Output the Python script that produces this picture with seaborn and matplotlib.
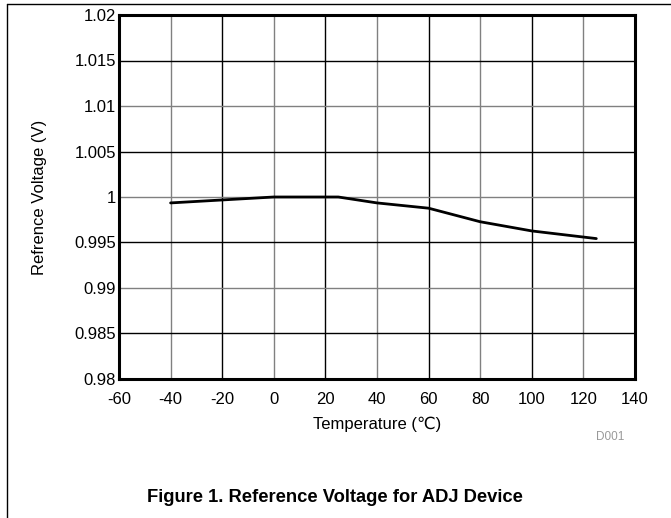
import pandas as pd
import seaborn as sns
from matplotlib import pyplot as plt
from matplotlib.lines import Line2D

temperature = [-40, 0, 25, 40, 60, 80, 100, 125]
ref_voltage = [0.99935, 1.0, 1.0, 0.99935, 0.99877, 0.99728, 0.99627, 0.99543]

x_ticks = [-60, -40, -20, 0, 20, 40, 60, 80, 100, 120, 140]
y_ticks = [0.98, 0.985, 0.99, 0.995, 1.0, 1.005, 1.01, 1.015, 1.02]
y_labels = ['0.98', '0.985', '0.99', '0.995', '1', '1.005', '1.01', '1.015', '1.02']

df = pd.DataFrame({'temp': temperature, 'vref': ref_voltage})

sns.set_style("white")
plt.rcParams['font.family'] = ['Liberation Sans', 'DejaVu Sans']
plt.rcParams['text.color'] = 'black'
plt.rcParams['axes.labelcolor'] = 'black'

fig = plt.figure(figsize=(6.71, 5.18), dpi=100)
ax = fig.add_axes([119 / 671, 1 - 379 / 518, 516 / 671, 364 / 518])

# alternating grid colours like the original
for i, xv in enumerate(x_ticks[1:-1]):
    ax.axvline(xv, color='#808080' if i % 2 == 0 else 'black', lw=1.0, zorder=1)
for i, yv in enumerate(y_ticks[1:-1]):
    ax.axhline(yv, color='black' if i % 2 == 0 else '#808080', lw=1.0, zorder=1)

sns.lineplot(data=df, x='temp', y='vref', color='black', linewidth=2.0, ax=ax, zorder=3)

ax.set_xlim(-60, 140)
ax.set_ylim(0.98, 1.02)
ax.set_xticks(x_ticks)
ax.set_xticklabels([str(v) for v in x_ticks])
ax.set_yticks(y_ticks)
ax.set_yticklabels(y_labels)
ax.tick_params(length=0, labelsize=12, colors='black')
ax.tick_params(axis='x', pad=9)
ax.tick_params(axis='y', pad=2)
for s in ax.spines.values():
    s.set_linewidth(2.2)
    s.set_color('black')
    s.set_zorder(4)

ax.set_xlabel('Temperature (℃)', fontsize=12, labelpad=7, color='black')
ax.set_ylabel('Refrence Voltage (V)', fontsize=12, labelpad=20, color='black')

fig.text(610 / 671, 1 - 437 / 518, 'D001', fontsize=8.5, color='#999999', ha='center', va='center')
fig.text(335 / 671, 1 - 498 / 518, 'Figure 1. Reference Voltage for ADJ Device',
         fontsize=13.2, fontweight='bold', ha='center', va='center')

# page frame lines (top and left)
fig.add_artist(Line2D([7 / 671, 1], [1 - 4 / 518, 1 - 4 / 518], transform=fig.transFigure, color='black', lw=1))
fig.add_artist(Line2D([7 / 671, 7 / 671], [0, 1 - 4 / 518], transform=fig.transFigure, color='black', lw=1))

fig.savefig('out.png', dpi=100)
